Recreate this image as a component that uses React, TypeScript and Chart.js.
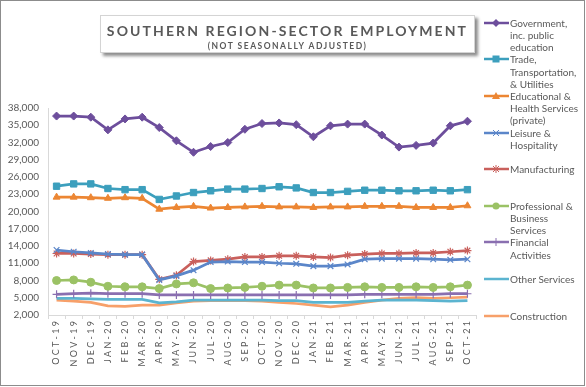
import React, { useEffect, useRef } from "react";
import { Chart, registerables } from "chart.js";

Chart.register(...registerables);

const months = [
  "OCT-19", "NOV-19", "DEC-19", "JAN-20", "FEB-20", "MAR-20", "APR-20", "MAY-20", "JUN-20",
  "JUL-20", "AUG-20", "SEP-20", "OCT-20", "NOV-20", "DEC-20", "JAN-21", "FEB-21", "MAR-21",
  "APR-21", "MAY-21", "JUN-21", "JUL-21", "AUG-21", "SEP-21", "OCT-21",
];

const government = [36600, 36600, 36400, 34200, 36100, 36400, 34600, 32300, 30300, 31300, 32000, 34300, 35300, 35400, 35100, 33000, 34900, 35200, 35200, 33300, 31200, 31500, 31900, 34900, 35700];
const trade = [24400, 24800, 24800, 24000, 23800, 23800, 22100, 22700, 23300, 23600, 23900, 23900, 24000, 24300, 24100, 23300, 23300, 23500, 23700, 23700, 23600, 23600, 23700, 23600, 23800];
const education = [22500, 22500, 22400, 22300, 22400, 22300, 20400, 20700, 20900, 20600, 20700, 20800, 20900, 20800, 20800, 20700, 20800, 20800, 20900, 20900, 20900, 20700, 20700, 20700, 21000];
const leisure = [13300, 13000, 12800, 12600, 12500, 12500, 8100, 8800, 9800, 11200, 11300, 11200, 11200, 11000, 10900, 10500, 10500, 10800, 11700, 11800, 11800, 11800, 11700, 11600, 11700];
const manufacturing = [12700, 12700, 12600, 12500, 12500, 12500, 8200, 8900, 11300, 11500, 11700, 12100, 12100, 12300, 12300, 12100, 12000, 12400, 12600, 12700, 12700, 12800, 12800, 13000, 13200];
const professional = [8000, 8100, 7700, 7000, 6900, 6900, 6600, 7400, 7600, 6600, 6700, 6800, 7000, 7200, 7200, 6700, 6700, 6800, 6900, 6800, 6800, 6900, 6800, 6900, 7200];
const financial = [5600, 5700, 5800, 5700, 5700, 5700, 5500, 5500, 5500, 5500, 5500, 5500, 5500, 5500, 5500, 5500, 5500, 5500, 5600, 5600, 5600, 5600, 5600, 5700, 5700];
const otherServices = [4900, 4900, 4800, 4700, 4700, 4700, 4100, 4300, 4600, 4600, 4600, 4600, 4600, 4500, 4500, 4200, 4200, 4200, 4400, 4600, 4600, 4600, 4500, 4400, 4500];
const construction = [4600, 4400, 4200, 3600, 3500, 3700, 3700, 4100, 4400, 4500, 4500, 4500, 4400, 4200, 4000, 3700, 3400, 3700, 4200, 4600, 4900, 5000, 4900, 5000, 5100];

const yMin = 2000;
const yMax = 38000;
const yStep = 3000;

const seriesNames = [
  ["Government,", "inc. public", "education"],
  ["Trade,", "Transportation,", "& Utilities"],
  ["Educational &", "Health Services", "(private)"],
  ["Leisure &", "Hospitality"],
  ["Manufacturing"],
  ["Professional &", "Business", "Services"],
  ["Financial", "Activities"],
  ["Other Services"],
  ["Construction"],
];
const seriesData = [government, trade, education, leisure, manufacturing, professional, financial, otherServices, construction];
const seriesColors = ["#6d4e9c", "#3c9fbd", "#ec8633", "#5b86c9", "#c9605c", "#9bc265", "#8a6fb0", "#5bb4d0", "#f7a06a"];
const seriesMarkers: (string | false)[] = ["rectRot", "rect", "triangle", "crossRot", "star", "circle", "cross", false, false];

const FONT = "Lato, 'Open Sans', sans-serif";

function spaced(s: string) {
  return s.split("").join(" ");
}

function Swatch({ color, marker }: { color: string; marker: string | false }) {
  const cx = 12;
  const cy = 5;
  let m: React.ReactNode = null;
  if (marker === "rectRot") m = <polygon points={`${cx},${cy - 4} ${cx + 4},${cy} ${cx},${cy + 4} ${cx - 4},${cy}`} fill={color} />;
  if (marker === "rect") m = <rect x={cx - 3.5} y={cy - 3.5} width={7} height={7} fill={color} />;
  if (marker === "triangle") m = <polygon points={`${cx},${cy - 4} ${cx + 4},${cy + 3} ${cx - 4},${cy + 3}`} fill={color} />;
  if (marker === "crossRot") m = <g stroke={color} strokeWidth={1}><line x1={cx - 3} y1={cy - 3} x2={cx + 3} y2={cy + 3} /><line x1={cx - 3} y1={cy + 3} x2={cx + 3} y2={cy - 3} /></g>;
  if (marker === "star") m = <g stroke={color} strokeWidth={1}><line x1={cx - 3} y1={cy - 3} x2={cx + 3} y2={cy + 3} /><line x1={cx - 3} y1={cy + 3} x2={cx + 3} y2={cy - 3} /><line x1={cx} y1={cy - 4} x2={cx} y2={cy + 4} /></g>;
  if (marker === "circle") m = <circle cx={cx} cy={cy} r={3.5} fill={color} />;
  if (marker === "cross") m = <g stroke={color} strokeWidth={1}><line x1={cx} y1={cy - 4} x2={cx} y2={cy + 4} /></g>;
  return (
    <svg width={25} height={10} style={{ position: "absolute", left: 0, top: 2 }}>
      <line x1={0} y1={cy} x2={25} y2={cy} stroke={color} strokeWidth={2.5} />
      {m}
    </svg>
  );
}

export default function App() {
  const canvasRef = useRef<HTMLCanvasElement | null>(null);

  useEffect(() => {
    document.body.style.margin = "0";
    const canvas = canvasRef.current;
    if (!canvas) return;
    const chart = new Chart(canvas, {
      type: "line",
      data: {
        labels: months.map(spaced),
        datasets: seriesData.map((d, i) => ({
          label: seriesNames[i].join(" "),
          data: d,
          borderColor: seriesColors[i],
          backgroundColor: seriesColors[i],
          borderWidth: 2.75,
          pointStyle: seriesMarkers[i] === false ? false : (seriesMarkers[i] as any),
          pointRadius: seriesMarkers[i] === false ? 0 : (seriesMarkers[i] === "rect" ? 4.5 : 4),
          pointBorderWidth: ["crossRot", "star", "cross"].includes(seriesMarkers[i] as string) ? 1.2 : 1,
          pointBorderColor: seriesColors[i],
          pointBackgroundColor: seriesColors[i],
          tension: 0,
          fill: false,
        })),
      },
      options: {
        responsive: false,
        animation: false,
        maintainAspectRatio: false,
        layout: { padding: { left: 0, right: 110, top: 108, bottom: 0 } },
        plugins: {
          legend: { display: false },
          title: { display: false },
          tooltip: { enabled: false },
        },
        scales: {
          x: {
            offset: true,
            afterFit: (scale: any) => {
              scale.height = 72;
            },
            grid: {
              offset: true,
              display: true,
              drawOnChartArea: false,
              drawTicks: true,
              tickLength: 4,
              color: "#d9d9d9",
            },
            border: { display: true, color: "#d9d9d9", width: 1 },
            ticks: {
              autoSkip: false,
              maxRotation: 90,
              minRotation: 90,
              padding: 2,
              color: "#595959",
              font: { family: FONT, size: 9 },
            },
          },
          y: {
            min: yMin,
            max: yMax,
            afterFit: (scale: any) => {
              scale.width = 48;
            },
            grid: { display: false, drawTicks: false },
            border: { display: true, color: "#d9d9d9", width: 1 },
            ticks: {
              stepSize: yStep,
              padding: 9,
              color: "#595959",
              font: { family: FONT, size: 10 },
              callback: (v: any) => Number(v).toLocaleString("en-US"),
            },
          },
        },
      },
    });
    return () => chart.destroy();
  }, []);

  return (
    <div style={{ position: "relative", width: 586, height: 387, background: "#fff", fontFamily: FONT, overflow: "hidden" }}>
      <canvas ref={canvasRef} width={586} height={387} style={{ position: "absolute", left: 0, top: 0, width: 586, height: 387 }} />
      <div
        style={{
          position: "absolute",
          left: 100,
          top: 15,
          width: 375,
          height: 38,
          boxSizing: "border-box",
          border: "1px solid #d4d4d4",
          background: "#fff",
          boxShadow: "3px 3px 3px rgba(0,0,0,0.45)",
          textAlign: "center",
          color: "#595959",
        }}
      >
        <div style={{ position: "absolute", left: 0, right: 0, top: 7, fontSize: 14, fontWeight: 700, letterSpacing: 2.1, lineHeight: "16px", whiteSpace: "nowrap" }}>
          SOUTHERN REGION-SECTOR EMPLOYMENT
        </div>
        <div style={{ position: "absolute", left: 0, right: 0, top: 25, fontSize: 8.5, fontWeight: 700, letterSpacing: 1.5, lineHeight: "10px", whiteSpace: "nowrap" }}>
          (NOT SEASONALLY ADJUSTED)
        </div>
      </div>
      {seriesNames.map((lines, i) => (
        <div
          key={i}
          style={{
            position: "absolute",
            left: 484,
            top: 22.7 + 36.6 * i - 7,
            width: 100,
            color: "#595959",
            fontSize: 10,
            lineHeight: "12.3px",
          }}
        >
          <Swatch color={seriesColors[i]} marker={seriesMarkers[i]} />
          <div style={{ marginLeft: 26, paddingTop: 1 }}>
            {lines.map((l, k) => (
              <div key={k} style={{ whiteSpace: "nowrap" }}>{l}</div>
            ))}
          </div>
        </div>
      ))}
      <div
        style={{
          position: "absolute",
          left: 0,
          top: 0,
          width: 585,
          height: 386,
          boxSizing: "border-box",
          border: "1.5px solid #8c8c8c",
          pointerEvents: "none",
        }}
      />
    </div>
  );
}
